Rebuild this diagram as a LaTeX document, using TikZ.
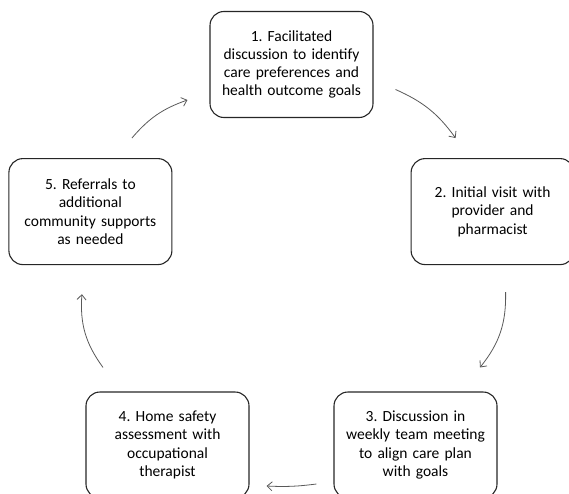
\documentclass[tikz,border=0pt]{standalone}
\usepackage{fontspec}
\setmainfont{Carlito}
\usetikzlibrary{positioning,arrows.meta}
\tikzset{stage box/.style={rectangle,rounded corners=14pt,draw=black!85,line width=1.1pt,
            minimum width=163pt,minimum height=106pt,text width=155pt,align=center,
            inner sep=0pt,font=\fontsize{15.5}{18.3}\selectfont},
         flow/.style={-{Straight Barb[length=5pt,width=9pt]},draw=black!65,line width=0.8pt},
            }

\begin{document}
\frenchspacing
\begin{tikzpicture}[x=1pt,y=1pt]
    \useasboundingbox (0,0) rectangle (569,-494);

    \node[stage box] (s1) at (291.5,-64.5) {1. Facilitated\\discussion to identify\\care preferences and\\health outcome goals};
    \node[stage box] (s2) [below right = 40pt and 37pt of s1.south east, anchor=north west] {2. Initial visit with\\provider and\\pharmacist};
    \node[stage box] (s5) [below left = 40pt and 37pt of s1.south west, anchor=north east] {5. Referrals to\\additional\\community supports\\as needed};
    \node[stage box] (s3) at (415.5,-445) {3. Discussion in\\weekly team meeting\\to align care plan\\with goals};
    \node[stage box] (s4) at (167.5,-445) {4. Home safety\\assessment with\\occupational\\therapist};

    \draw[flow] ([shift={(22pt,-25pt)}]s1.east) to[bend left=15] ([shift={(-37pt,20pt)}]s2.north);
    \draw[flow] ([shift={(13pt,-27pt)}]s2.south) to[bend left=20] ([shift={(64.5pt,24pt)}]s3.north);
    \draw[flow] ([shift={(-17pt,-39pt)}]s3.west) to[bend left=5] ([shift={(17pt,-41pt)}]s4.east);
    \draw[flow] ([shift={(-64.5pt,24pt)}]s4.north) to[bend left=20] ([shift={(-8.5pt,-29pt)}]s5.south);
    \draw[flow] ([shift={(41.5pt,20pt)}]s5.north) to[bend left=15] ([shift={(-22pt,-35.5pt)}]s1.west);
\end{tikzpicture}
\end{document}
